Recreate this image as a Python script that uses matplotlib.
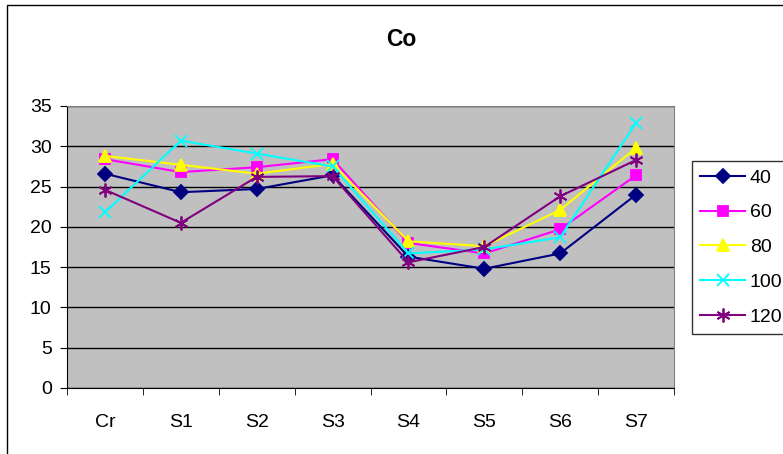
import matplotlib
matplotlib.use("Agg")
import matplotlib.pyplot as plt
from matplotlib.patches import Rectangle

plt.rcParams['font.family'] = ['Liberation Sans', 'DejaVu Sans']

categories = ["Cr", "S1", "S2", "S3", "S4", "S5", "S6", "S7"]
s40 = [26.6, 24.3, 24.7, 26.4, 16.3, 14.8, 16.7, 24.0]
s60 = [28.4, 26.8, 27.4, 28.4, 18.0, 16.7, 19.7, 26.4]
s80 = [28.8, 27.7, 26.6, 27.8, 18.2, 17.6, 22.1, 29.8]
s100 = [21.8, 30.7, 29.1, 27.5, 16.7, 17.2, 18.7, 32.9]
s120 = [24.6, 20.5, 26.2, 26.3, 15.6, 17.5, 23.8, 28.3]
series_names = ["40", "60", "80", "100", "120"]

fig = plt.figure(figsize=(7.83, 4.54), dpi=100)
# outer chart border (runs off right/bottom edge like the original)
fig.patches.append(Rectangle((7/783, -0.1), 1.2, 1.1 - 5/454,
                             transform=fig.transFigure, fill=False,
                             edgecolor='black', linewidth=1.0))

ax = fig.add_axes([67/783, 1 - 388/454, 607/783, 282/454])
ax.set_facecolor('#C0C0C0')

x = list(range(len(categories)))
styles = [
    ('#000080', 'D', 7),
    ('#FF00FF', 's', 7),
    ('#FFFF00', '^', 9),
    ('#00FFFF', 'x', 9),
    ('#800080', (6, 2, 0), 10),
]
data = [s40, s60, s80, s100, s120]
for vals, name, (c, m, ms) in zip(data, series_names, styles):
    ax.plot(x, vals, color=c, marker=m, markersize=ms, linewidth=1.5,
            markeredgecolor=c, markerfacecolor=c, markeredgewidth=1.3,
            label=name)

ax.set_xlim(-0.5, len(categories) - 0.5)
ax.set_ylim(0, 35)
ax.set_yticks(range(0, 36, 5))
ax.yaxis.grid(True, color='black', linewidth=1.0)
ax.set_axisbelow(True)

ax.set_xticks(x)
ax.set_xticklabels(categories)
ax.set_xticks([i - 0.5 for i in range(len(categories) + 1)], minor=True)
ax.tick_params(axis='x', which='major', length=0, pad=19, labelsize=14)
ax.tick_params(axis='x', which='minor', length=5, direction='out')
ax.tick_params(axis='y', length=5, direction='out', labelsize=14, pad=6)

for side in ['top', 'right']:
    ax.spines[side].set_color('#808080')
ax.spines['left'].set_color('black')
ax.spines['bottom'].set_color('black')

fig.text(401/783, 1 - 40/454, "Co", ha='center', va='center',
         fontsize=16.5, fontweight='bold')

leg = fig.legend(loc='upper left', bbox_to_anchor=(692/783, 1 - 161/454),
                 frameon=True, fancybox=False, edgecolor='black',
                 fontsize=14, handlelength=2.3, labelspacing=0.88,
                 borderpad=0.42, handletextpad=0.26, borderaxespad=0)
leg.get_frame().set_linewidth(1.0)

fig.savefig("out.png", dpi=100)
